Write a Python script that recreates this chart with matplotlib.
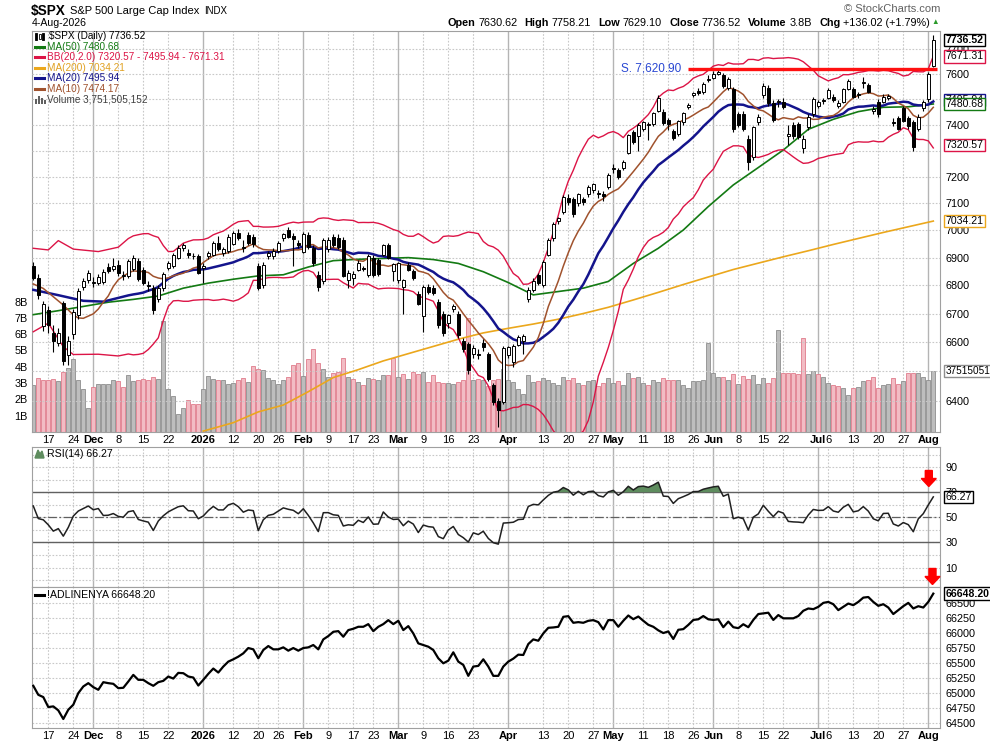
import matplotlib
matplotlib.use("Agg")
import matplotlib.pyplot as plt
from matplotlib.ticker import FixedLocator, NullLocator, FuncFormatter
from matplotlib.patches import Polygon, Rectangle
from matplotlib.lines import Line2D
import numpy as np
import pandas as pd

plt.rcParams['font.family'] = ['Liberation Sans', 'DejaVu Sans']

W, H = 990, 744

# ---- daily bars, 12-Nov-2025 .. 4-Aug-2026 (index 0 .. 180) ----
opens = [
    6870, 6826, 6657, 6713, 6630, 6598, 6737, 6555, 6628, 6695,
    6795, 6818, 6808, 6809, 6813, 6866, 6860, 6875, 6835, 6835,
    6859, 6888, 6855, 6800, 6790, 6750, 6790, 6862, 6868, 6900,
    6935, 6918, 6905, 6905, 6862, 6905, 6910, 6955, 6918, 6925,
    6950, 6990, 6940, 6982, 6975, 6868, 6800, 6905, 6905, 6925,
    6970, 7000, 6978, 6955, 6922, 6983, 6935, 6838, 6814, 6930,
    6975, 6970, 6965, 6820, 6825, 6855, 6862, 6838, 6900, 6893,
    6910, 6945, 6850, 6818, 6795, 6873, 6850, 6770, 6690, 6795,
    6790, 6740, 6700, 6668, 6715, 6700, 6605, 6595, 6560, 6560,
    6597, 6558, 6451, 6400, 6395, 6555, 6530, 6590, 6605, 6750,
    6783, 6838, 6800, 6910, 6970, 7035, 7068, 7120, 7118, 7100,
    7115, 7134, 7150, 7135, 7135, 7162, 7230, 7227, 7233, 7290,
    7373, 7356, 7383, 7398, 7404, 7455, 7450, 7417, 7375, 7365,
    7410, 7470, 7518, 7532, 7528, 7578, 7585, 7600, 7596, 7545,
    7540, 7440, 7440, 7346, 7277, 7410, 7516, 7546, 7485, 7488,
    7490, 7358, 7400, 7402, 7310, 7390, 7440, 7475, 7495, 7505,
    7510, 7475, 7490, 7542, 7542, 7515, 7565, 7558, 7455, 7490,
    7490, 7505, 7412, 7425, 7465, 7425, 7410, 7385, 7465, 7500,
    7630.62]
highs = [
    6885, 6840, 6745, 6725, 6660, 6650, 6745, 6620, 6715, 6790,
    6825, 6855, 6830, 6840, 6858, 6880, 6900, 6890, 6850, 6895,
    6910, 6900, 6865, 6815, 6800, 6800, 6848, 6888, 6915, 6945,
    6955, 6930, 6915, 6912, 6880, 6925, 6962, 6980, 6940, 6985,
    6998, 7005, 6965, 6995, 6985, 6880, 6885, 6925, 6935, 6962,
    6990, 7012, 6990, 6965, 6995, 6995, 6945, 6850, 6972, 6975,
    6988, 6985, 6975, 6855, 6850, 6890, 6870, 6912, 6910, 6900,
    6950, 6955, 6880, 6885, 6822, 6885, 6860, 6780, 6800, 6805,
    6800, 6750, 6710, 6700, 6735, 6710, 6615, 6600, 6590, 6575,
    6610, 6565, 6460, 6410, 6585, 6585, 6595, 6625, 6628, 6795,
    6825, 6845, 6890, 6970, 7030, 7050, 7130, 7135, 7125, 7140,
    7125, 7168, 7178, 7150, 7145, 7215, 7250, 7235, 7265, 7365,
    7380, 7405, 7415, 7410, 7450, 7515, 7460, 7425, 7385, 7420,
    7450, 7485, 7530, 7545, 7568, 7595, 7612, 7618, 7605, 7590,
    7548, 7450, 7452, 7360, 7395, 7440, 7565, 7555, 7495, 7500,
    7505, 7400, 7410, 7410, 7360, 7440, 7510, 7495, 7505, 7545,
    7520, 7495, 7545, 7580, 7550, 7530, 7590, 7565, 7475, 7500,
    7520, 7520, 7425, 7435, 7475, 7435, 7420, 7440, 7495, 7610,
    7758.21]
lows = [
    6820, 6750, 6640, 6630, 6565, 6585, 6520, 6520, 6610, 6680,
    6785, 6810, 6795, 6800, 6805, 6845, 6850, 6835, 6820, 6825,
    6850, 6815, 6800, 6780, 6700, 6740, 6780, 6855, 6862, 6895,
    6925, 6900, 6895, 6840, 6810, 6895, 6905, 6925, 6905, 6915,
    6945, 6965, 6920, 6945, 6940, 6785, 6790, 6895, 6895, 6918,
    6960, 6970, 6870, 6935, 6915, 6930, 6870, 6780, 6805, 6920,
    6940, 6930, 6830, 6790, 6800, 6850, 6850, 6830, 6830, 6835,
    6905, 6895, 6815, 6810, 6700, 6850, 6820, 6730, 6635, 6770,
    6765, 6650, 6620, 6650, 6705, 6615, 6565, 6490, 6545, 6540,
    6570, 6465, 6385, 6310, 6390, 6545, 6515, 6585, 6560, 6740,
    6775, 6800, 6795, 6905, 6960, 7025, 7060, 7095, 7050, 7090,
    7095, 7125, 7140, 7120, 7110, 7155, 7215, 7190, 7225, 7285,
    7325, 7300, 7375, 7340, 7395, 7450, 7400, 7380, 7340, 7355,
    7400, 7460, 7510, 7515, 7520, 7570, 7580, 7595, 7545, 7535,
    7370, 7390, 7375, 7226, 7265, 7400, 7505, 7475, 7410, 7470,
    7460, 7320, 7345, 7345, 7290, 7380, 7430, 7465, 7480, 7500,
    7490, 7465, 7485, 7535, 7505, 7505, 7545, 7525, 7440, 7430,
    7485, 7495, 7395, 7380, 7410, 7385, 7300, 7375, 7455, 7490,
    7629.10]
closes = [
    6828, 6765, 6735, 6660, 6605, 6630, 6533, 6603, 6705, 6780,
    6815, 6845, 6812, 6830, 6849, 6852, 6870, 6843, 6836, 6888,
    6898, 6822, 6808, 6797, 6712, 6790, 6840, 6880, 6908, 6935,
    6945, 6908, 6906, 6845, 6868, 6915, 6955, 6930, 6930, 6975,
    6990, 6970, 6935, 6952, 6948, 6790, 6875, 6915, 6925, 6955,
    6985, 6975, 6968, 6945, 6985, 6940, 6880, 6795, 6964, 6965,
    6945, 6940, 6835, 6845, 6840, 6880, 6860, 6905, 6838, 6840,
    6945, 6900, 6877, 6880, 6818, 6855, 6827, 6735, 6795, 6778,
    6772, 6660, 6630, 6696, 6725, 6623, 6576, 6503, 6580, 6555,
    6583, 6474, 6395, 6367, 6578, 6582, 6588, 6618, 6622, 6783,
    6815, 6810, 6885, 6964, 7025, 7045, 7124, 7105, 7062, 7134,
    7105, 7162, 7172, 7138, 7128, 7208, 7235, 7200, 7257, 7360,
    7333, 7400, 7410, 7402, 7445, 7505, 7407, 7404, 7350, 7415,
    7445, 7478, 7524, 7526, 7562, 7582, 7600, 7610, 7553, 7580,
    7385, 7400, 7385, 7255, 7390, 7430, 7552, 7484, 7418, 7492,
    7470, 7362, 7355, 7352, 7345, 7430, 7500, 7490, 7492, 7535,
    7496, 7485, 7540, 7574, 7510, 7522, 7567, 7530, 7460, 7440,
    7510, 7512, 7408, 7385, 7415, 7393, 7313, 7430, 7487, 7600.50,
    7736.52]
volumes_b = [
    2.91, 3.33, 3.16, 3.20, 3.26, 3.10, 3.71, 3.94, 4.45, 3.22,
    2.65, 1.48, 2.79, 2.96, 2.96, 2.96, 3.16, 3.10, 2.79, 3.50,
    3.10, 3.20, 3.26, 3.22, 3.37, 3.26, 6.78, 2.62, 2.23, 1.09,
    1.46, 1.97, 1.70, 1.70, 2.62, 3.45, 3.28, 3.20, 3.16, 2.96,
    3.00, 3.20, 3.33, 3.05, 4.02, 3.88, 3.78, 3.33, 3.20, 2.96,
    3.22, 3.40, 4.08, 4.25, 3.45, 4.50, 5.10, 4.25, 3.85, 3.35,
    3.61, 3.67, 4.55, 3.36, 3.26, 3.06, 2.91, 3.32, 3.26, 3.20,
    3.47, 3.47, 4.55, 3.40, 3.53, 3.26, 3.67, 3.57, 3.67, 3.06,
    3.47, 3.06, 3.00, 3.00, 2.96, 3.06, 3.16, 7.00, 3.16, 3.26,
    3.16, 2.85, 3.16, 3.26, 3.88, 3.16, 3.06, 2.65, 2.34, 3.47,
    3.06, 3.10, 3.30, 3.20, 3.00, 2.90, 3.40, 3.20, 3.30, 3.00,
    2.90, 3.10, 3.20, 2.80, 3.00, 3.30, 3.00, 3.10, 2.90, 3.60,
    3.30, 3.40, 3.00, 2.90, 3.20, 3.06, 3.33, 3.16, 3.16, 3.16,
    2.90, 2.70, 3.10, 3.10, 3.20, 5.47, 3.63, 3.40, 3.36, 3.20,
    3.57, 2.96, 3.43, 3.26, 3.51, 2.96, 3.30, 3.02, 3.30, 6.27,
    3.63, 3.63, 3.63, 3.57, 5.77, 3.53, 3.73, 3.57, 3.36, 3.00,
    2.90, 2.84, 2.70, 2.29, 2.70, 2.78, 3.10, 3.16, 3.36, 2.70,
    2.88, 2.96, 3.33, 2.96, 3.10, 3.63, 3.63, 3.63, 3.36, 3.20,
    3.75]
adline = [
    65121, 64972, 64934, 64769, 64780, 64714, 64571, 64725, 64808, 65000,
    65110, 65165, 65099, 65055, 65181, 65165, 65154, 65082, 65088, 65192,
    65302, 65220, 65220, 65165, 65121, 65181, 65203, 65275, 65241, 65335,
    65330, 65275, 65258, 65126, 65220, 65319, 65407, 65341, 65440, 65522,
    65560, 65604, 65659, 65747, 65725, 65577, 65714, 65780, 65725, 65725,
    65758, 65703, 65747, 65703, 65747, 65758, 65797, 65725, 65890, 65945,
    66016, 66027, 65934, 66044, 66066, 66099, 66099, 66143, 66027, 66099,
    66143, 66209, 66143, 66198, 66044, 66110, 65989, 65824, 65797, 65769,
    65714, 65577, 65494, 65538, 65676, 65522, 65467, 65286, 65440, 65451,
    65560, 65440, 65286, 65286, 65440, 65522, 65571, 65637, 65632, 65813,
    65890, 65868, 65989, 66082, 66088, 66099, 66264, 66275, 66165, 66176,
    66165, 66198, 66209, 66176, 66055, 66209, 66209, 66099, 66198, 66286,
    66225, 66269, 66198, 66132, 66099, 66040, 65995, 66022, 65897, 66049,
    66060, 66130, 66212, 66223, 66277, 66223, 66212, 66223, 66092, 66185,
    66092, 66076, 66141, 66092, 66212, 66310, 66321, 66332, 66212, 66293,
    66239, 66239, 66239, 66277, 66364, 66402, 66391, 66429, 66495, 66511,
    66473, 66375, 66429, 66484, 66457, 66511, 66582, 66592, 66511, 66446,
    66473, 66418, 66310, 66375, 66440, 66495, 66402, 66440, 66418, 66511,
    66648.20]

ma50_days = list(range(0, 181, 5))
ma50_vals = [6696, 6710, 6725, 6740, 6750, 6762, 6790, 6808, 6822, 6834,
             6838, 6866, 6889, 6894, 6897, 6900, 6893, 6879, 6849, 6810,
             6766, 6778, 6790, 6814, 6879, 6934, 7001, 7088, 7169, 7235,
             7302, 7382, 7421, 7451, 7468, 7470, 7481]
ma200_days = [34] + list(range(40, 181, 5))
ma200_vals = [6298, 6326, 6362, 6385, 6430, 6478, 6505, 6535, 6560, 6585,
              6610, 6632, 6648, 6663, 6680, 6700, 6722, 6748, 6775, 6803,
              6830, 6857, 6880, 6903, 6925, 6948, 6970, 6992, 7013, 7034]
ma10_head_days = [0, 2, 6, 8]
ma10_head = [6805, 6789, 6730, 6695]
ma20_head_days = [0, 5, 10, 14]
ma20_head = [6784, 6765, 6745, 6742]
bbu_head_days = [0, 3, 5, 8, 13, 17]
bbu_head = [6934, 6928, 6962, 6931, 6922, 6938]
bbl_head_days = [0, 3, 6, 8, 13, 17]
bbl_head = [6636, 6666, 6584, 6557, 6558, 6552]
rsi_head = [59, 49, 48, 44, 39, 41, 35, 42, 51, 55, 57, 59, 56, 57]

# date axis labels (bar index, text)
tick_days = [3, 8, 12, 17, 22, 27, 34, 40, 45, 49, 54, 59, 64, 68, 73, 78, 83, 88,
             95, 102, 107, 112, 116, 122, 127, 132, 136, 141, 146, 150, 157, 159,
             164, 169, 174, 179]
tick_text = ['17', '24', 'Dec', '8', '15', '22', '2026', '12', '20', '26', 'Feb',
             '9', '17', '23', 'Mar', '9', '16', '23', 'Apr', '13', '20', '27', 'May',
             '11', '18', '26', 'Jun', '8', '15', '22', 'Jul', '6', '13', '20', '27',
             'Aug']
month_text = {'Dec', '2026', 'Feb', 'Mar', 'Apr', 'May', 'Jun', 'Jul', 'Aug'}

support_level = 7620.90

# ---------------------------------------------------------------
o = np.array(opens, float)
h = np.array(highs, float)
l = np.array(lows, float)
c = np.array(closes, float)
n = len(c)
x = np.arange(n)

cs = pd.Series(c)
ma10 = cs.rolling(10).mean().to_numpy()
ma20 = cs.rolling(20).mean().to_numpy()
sd20 = cs.rolling(20).std(ddof=0).to_numpy()
bbu = ma20 + 2 * sd20
bbl = ma20 - 2 * sd20

diff = np.diff(c, prepend=c[0])
gain = np.clip(diff, 0, None)
loss = np.clip(-diff, 0, None)
rsi = np.full(n, np.nan)
ag = gain[1:15].mean()
al = loss[1:15].mean()
rsi[14] = 100 - 100 / (1 + ag / al)
for i in range(15, n):
    ag = (ag * 13 + gain[i]) / 14
    al = (al * 13 + loss[i]) / 14
    rsi[i] = 100 - 100 / (1 + ag / al)
rsi[:14] = rsi_head


def rect(left, top, right, bottom):
    return [left / W, 1 - bottom / H, (right - left) / W, (bottom - top) / H]


def fx(px):
    return px / W


def fy(py):
    return 1 - py / H


fig = plt.figure(figsize=(W / 100, H / 100), dpi=100)
fig.patch.set_facecolor('white')
renderer = fig.canvas.get_renderer()

ax_v = fig.add_axes(rect(32, 31, 940, 432))
ax = fig.add_axes(rect(32, 31, 940, 432), sharex=ax_v)
ax.patch.set_visible(False)
ax_r = fig.add_axes(rect(32, 447, 940, 587), sharex=ax_v)
ax_a = fig.add_axes(rect(32, 587, 940, 728), sharex=ax_v)

ax_v.set_xlim(-0.26, 181.34)

grid_c = '#c8c8c8'
month_c = '#b4b4b4'
frame_c = '#a0a0a0'
dots = (0, (1.5, 1.5))

for a in (ax_v, ax_r, ax_a):
    for d, t in zip(tick_days, tick_text):
        if t in month_text:
            a.axvline(d, color=month_c, lw=1.0, zorder=0)
        else:
            a.axvline(d, color=grid_c, lw=0.8, ls=dots, zorder=0)
    for s in a.spines.values():
        s.set_color(frame_c)
    a.tick_params(axis='x', which='both', length=0, labelbottom=False)
for s in ax.spines.values():
    s.set_visible(False)
ax.tick_params(axis='x', length=0, labelbottom=False)

# ---- volume ----
vol_up = np.r_[True, c[1:] >= c[:-1]]
ax_v.bar(x, volumes_b, width=0.82, color=np.where(vol_up, '#bdbdbd', '#f2bcc4'),
         edgecolor=np.where(vol_up, '#8e8e8e', '#e07c8c'), lw=0.6, zorder=1)
ax_v.set_ylim(0, 24.6)
ax_v.yaxis.set_major_locator(FixedLocator(range(1, 9)))
ax_v.yaxis.set_major_formatter(FuncFormatter(lambda v, p: '%dB' % v))
ax_v.tick_params(axis='y', length=0, pad=3, labelsize=7.8)

# ---- price ----
ax.set_yscale('log')
ax.set_ylim(6295, 7774)
price_ticks = list(range(6400, 7800, 100))
hidden_ticks = {6500, 7300, 7500}
ax.yaxis.set_major_locator(FixedLocator(price_ticks))
ax.yaxis.set_minor_locator(NullLocator())
ax.yaxis.set_major_formatter(FuncFormatter(
    lambda v, p: '' if round(v) in hidden_ticks else '%d' % round(v)))
ax.yaxis.tick_right()
ax.tick_params(axis='y', which='both', length=0, pad=4, labelsize=7.8)
for p in price_ticks:
    ax.axhline(p, color=grid_c, lw=0.8, ls=dots, zorder=0.5)

ax.plot(ma200_days, ma200_vals, color='#eba71c', lw=1.2, zorder=2)
ax.plot(ma50_days, ma50_vals, color='#137a13', lw=1.2, zorder=2)
ax.plot(bbu_head_days + list(range(19, n)), bbu_head + list(bbu[19:]),
        color='#dc1446', lw=1.0, zorder=2)
ax.plot(bbl_head_days + list(range(19, n)), bbl_head + list(bbl[19:]),
        color='#dc1446', lw=1.0, zorder=2)
ax.plot(ma20_head_days + list(range(19, n)), ma20_head + list(ma20[19:]),
        color='#14148c', lw=1.8, zorder=2)
ax.plot(ma10_head_days + list(range(9, n)), ma10_head + list(ma10[9:]),
        color='#a0522d', lw=1.1, zorder=2)

up = c >= o
ax.vlines(x, l, h, color='black', lw=0.8, zorder=3)
ax.bar(x, np.maximum(np.abs(c - o), 1.5), bottom=np.minimum(o, c), width=0.62,
       color=np.where(up, 'white', 'black'), edgecolor='black', lw=0.7, zorder=4)

ax.hlines(support_level, 130.9, 180.7, color='#ff1010', lw=2.4, zorder=5)
ax.text(129.5, support_level, 'S. 7,620.90', color='#2846d2', fontsize=8.5,
        ha='right', va='center', zorder=6)

xt = ax.get_xaxis_transform()
for d, t in zip(tick_days, tick_text):
    ax.text(d, -8 / 401, t, transform=xt, ha='center', va='center', fontsize=8,
            fontweight='bold' if t in month_text else 'normal')


def tag(a, y, text, edge, bold=False, size=7.6):
    a.annotate(text, xy=(1, y), xycoords=('axes fraction', 'data'),
               xytext=(4, 0), textcoords='offset points', ha='left', va='center',
               fontsize=size, fontweight='bold' if bold else 'normal',
               bbox=dict(boxstyle='square,pad=0.12', fc='white', ec=edge, lw=1.0),
               annotation_clip=False, zorder=10)


tag(ax, 7495.94, '7495.94', '#14148c')
tag(ax, ma50_vals[-1] - 0.3, '7480.68', '#137a13')
tag(ax, 7320.57, '7320.57', '#dc1446')
tag(ax, 7671.31, '7671.31', '#dc1446')
tag(ax, 7034.21, '7034.21', '#eba71c')
tag(ax, c[-1], '%.2f' % c[-1], 'black', bold=True)
tag(ax_v, volumes_b[-1], '37515051', '#8e8e8e', size=7.2)

# ---- RSI ----
ax_r.set_ylim(-5.5, 106)
for lv in range(0, 101, 10):
    ax_r.axhline(lv, color=grid_c, lw=0.8, ls=dots, zorder=0)
ax_r.axhline(70, color='#606060', lw=1.0, zorder=1)
ax_r.axhline(30, color='#606060', lw=1.0, zorder=1)
ax_r.axhline(50, color='#606060', lw=0.9, ls=(0, (7, 2, 1.5, 2)), zorder=1)
ax_r.fill_between(x, rsi, 70, where=rsi >= 70, interpolate=True,
                  color='#5e8c5e', lw=0, zorder=2)
ax_r.plot(x, rsi, color='#202020', lw=1.1, zorder=3)
ax_r.yaxis.set_major_locator(FixedLocator([10, 30, 50, 70, 90]))
ax_r.yaxis.tick_right()
ax_r.tick_params(axis='y', length=0, pad=4, labelsize=7.8)
tag(ax_r, rsi[-1], '%.2f' % rsi[-1], 'black')

# ---- A/D line ----
ax_a.set_ylim(64422, 66758)
adl_ticks = list(range(64500, 66501, 250))
for lv in adl_ticks:
    ax_a.axhline(lv, color=grid_c, lw=0.8, ls=dots, zorder=0)
ax_a.plot(x, adline, color='black', lw=1.6, zorder=3)
ax_a.yaxis.set_major_locator(FixedLocator(adl_ticks))
ax_a.yaxis.tick_right()
ax_a.tick_params(axis='y', length=0, pad=4, labelsize=7.8)
tag(ax_a, adline[-1], '%.2f' % adline[-1], 'black', bold=True)
xa = ax_a.get_xaxis_transform()
for d, t in zip(tick_days, tick_text):
    ax_a.text(d, -8 / 141, t, transform=xa, ha='center', va='center', fontsize=8,
              fontweight='bold' if t in month_text else 'normal')

# ---- red arrows ----
for cx, top in ((928.8, 470.5), (932.5, 568.5)):
    pts = [(cx - 3.5, top), (cx + 3.5, top), (cx + 3.5, top + 8), (cx + 7.5, top + 8),
           (cx, top + 16), (cx - 7.5, top + 8), (cx - 3.5, top + 8)]
    fig.add_artist(Polygon([(fx(px), fy(py)) for px, py in pts], closed=True,
                           transform=fig.transFigure, color='#ff0000', zorder=20))

# ---- header ----
xpos = 31
for txt, size, bold, gap in (('$SPX', 9.8, True, 4), ('S&P 500 Large Cap Index', 8, False, 5),
                             ('INDX', 7, False, 0)):
    t = fig.text(fx(xpos), fy(10.5), txt, fontsize=size, va='center',
                 fontweight='bold' if bold else 'normal')
    xpos += t.get_window_extent(renderer).width + gap
fig.text(fx(32), fy(22.5), '4-Aug-2026', fontsize=7.6, va='center')
fig.text(fx(940), fy(8.5), '\u00a9 StockCharts.com', fontsize=8, color='#606060',
         ha='right', va='center')

pieces = [('Open', True), ('7630.62', False), ('High', True), ('7758.21', False),
          ('Low', True), ('7629.10', False), ('Close', True), ('7736.52', False),
          ('Volume', True), ('3.8B', False), ('Chg', True), ('+136.02 (+1.79%)', False)]
xpos = 930
for txt, bold in reversed(pieces):
    t = fig.text(0, fy(22.5), txt, fontsize=7.8, va='center',
                 fontweight='bold' if bold else 'normal')
    w = t.get_window_extent(renderer).width
    xpos -= w
    t.set_x(fx(xpos))
    xpos -= 3 if not bold else 7
fig.text(fx(935.5), fy(22), '\u25b2', fontsize=5.5, color='#2a9a2a',
         ha='center', va='center')

# ---- legends ----
legend_rows = [
    ('$SPX (Daily) 7736.52', 'black', None),
    ('MA(50) 7480.68', '#137a13', '#137a13'),
    ('BB(20,2.0) 7320.57 - 7495.94 - 7671.31', '#dc1446', '#dc1446'),
    ('MA(200) 7034.21', '#e0a020', '#eba71c'),
    ('MA(20) 7495.94', '#14148c', '#14148c'),
    ('MA(10) 7474.17', '#a0522d', '#a0522d'),
    ('Volume 3,751,505,152', '#404040', None),
]
for k, (txt, tc, lc) in enumerate(legend_rows):
    yy = 36 + k * 10.6
    fig.text(fx(47 if k else 49), fy(yy), txt, fontsize=7.2, color=tc, va='center')
    if lc:
        fig.add_artist(Line2D([fx(35), fx(44)], [fy(yy), fy(yy)], color=lc, lw=2.2,
                              transform=fig.transFigure))
for dx, hh, fill in ((36, 7, 'black'), (39.5, 5, 'white'), (43, 7, 'black')):
    fig.add_artist(Rectangle((fx(dx - 1), fy(36 + hh / 2)), fx(2), hh / H,
                             transform=fig.transFigure, fc=fill, ec='black', lw=0.6))
for dx, hh in ((35.5, 5), (38.5, 8), (41.5, 6), (44.5, 4)):
    yb = 36 + 6 * 10.6 + 4
    fig.add_artist(Rectangle((fx(dx - 1), fy(yb)), fx(2), hh / H,
                             transform=fig.transFigure, fc='#606060', ec='none'))

fig.add_artist(Polygon([(fx(35), fy(458)), (fx(38), fy(450)), (fx(40), fy(454)),
                        (fx(42), fy(451)), (fx(44), fy(458))], closed=True,
                       transform=fig.transFigure, color='#5e8c5e'))
fig.text(fx(47), fy(454), 'RSI(14) %.2f' % rsi[-1], fontsize=7.6, va='center')
fig.add_artist(Line2D([fx(35), fx(44)], [fy(594.5), fy(594.5)], color='black', lw=2.2,
                      transform=fig.transFigure))
fig.text(fx(47), fy(594.5), '!ADLINENYA 66648.20', fontsize=7.6, va='center')

fig.savefig('out.png', dpi=100, facecolor='white')
